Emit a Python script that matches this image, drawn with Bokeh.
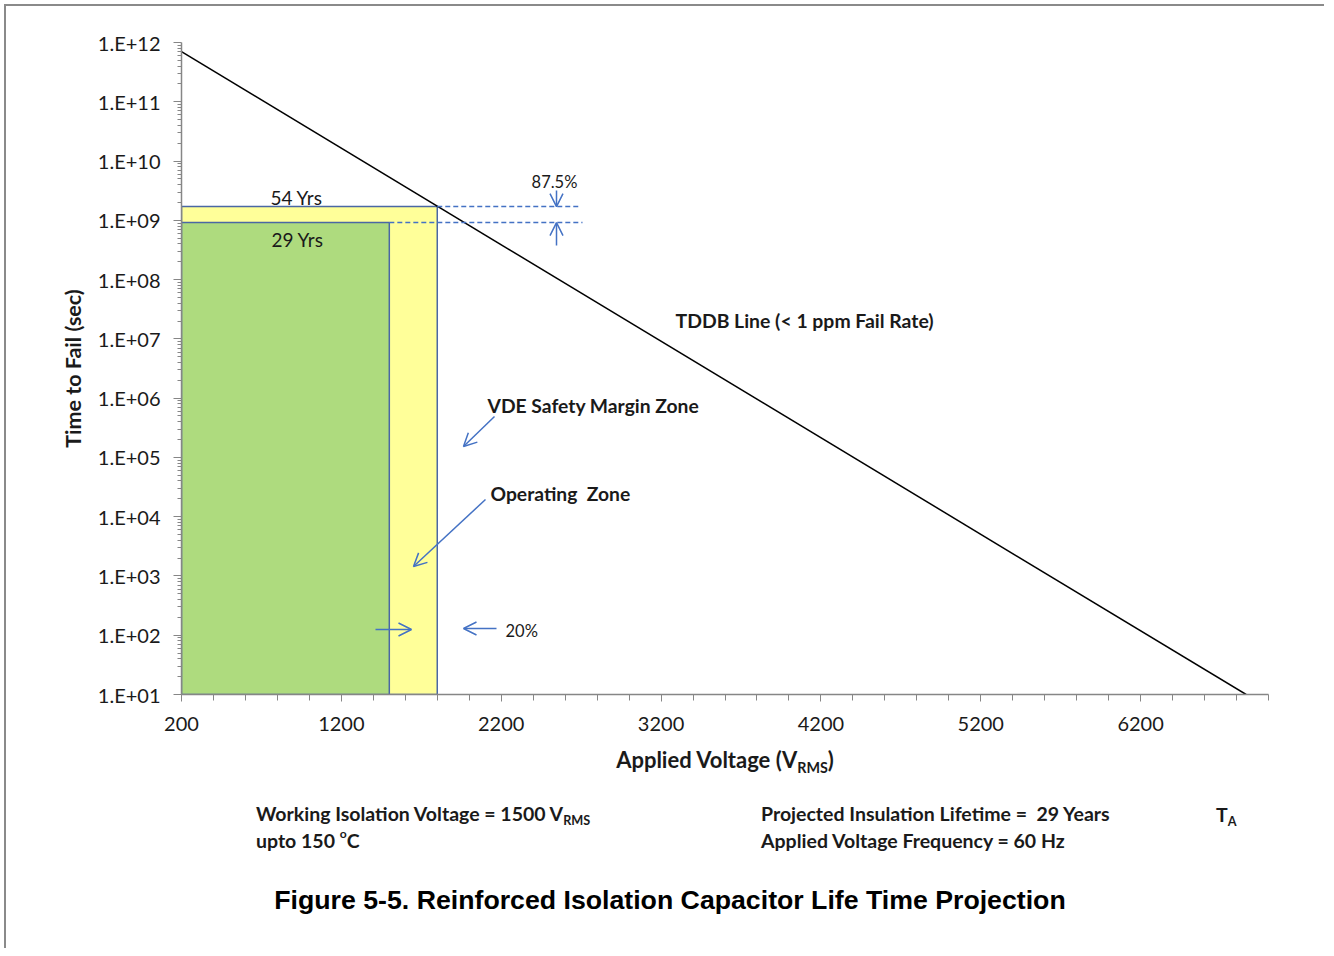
import math
from bokeh.plotting import figure
from bokeh.layouts import column
from bokeh.models import Range1d, FixedTicker, CustomJSTickFormatter, Label, Arrow, OpenHead, Div
from bokeh.embed import file_html
from bokeh.resources import INLINE

# ---------------- data ----------------
tddb_voltage = [200, 6860]          # V_RMS
tddb_time = [7.0e11, 1.0e1]         # seconds
zone_names = ["VDE Safety Margin Zone", "Operating Zone"]
zone_voltage = [1800, 1500]         # right edge of each zone (V_RMS)
zone_years = [54, 29]               # projected lifetime (years)
zone_colors = ["#FFFF99", "#AEDB7E"]
x_tick_values = [200, 1200, 2200, 3200, 4200, 5200, 6200]
x_minor_values = list(range(200, 7001, 200))
y_tick_labels = ["1.E+01", "1.E+02", "1.E+03", "1.E+04", "1.E+05", "1.E+06",
                 "1.E+07", "1.E+08", "1.E+09", "1.E+10", "1.E+11", "1.E+12"]
SEC_PER_YEAR = 365.25 * 86400
zone_seconds = [y * SEC_PER_YEAR for y in zone_years]

# ---------------- geometry helpers (page px -> data) ----------------
FL, FR, FT, FB = 181, 1268, 42, 694
XMIN, XMAX = 200, 7000
LMIN, LMAX = 1, 12

def X(sx):
    return XMIN + (sx - FL) / (FR - FL) * (XMAX - XMIN)

def Y(sy):
    return 10 ** (LMAX - (sy - FT) / (FB - FT) * (LMAX - LMIN))

W = 1318
OFF = 6          # page offset of figure (4 margin + 2 border)
FIG_BOTTOM = 742  # page y where the figure ends
H = FIG_BOTTOM - OFF

p = figure(width=W, height=H, output_backend="svg", toolbar_location=None,
           x_range=Range1d(XMIN, XMAX), y_range=Range1d(10 ** LMIN, 10 ** LMAX),
           y_axis_type="log",
           min_border_left=FL - OFF, min_border_top=FT - OFF,
           min_border_right=W - (FL - OFF) - (FR - FL),
           min_border_bottom=H - (FT - OFF) - (FB - FT))
p.outline_line_color = None
p.xgrid.grid_line_color = None
p.ygrid.grid_line_color = None
p.background_fill_color = "white"
p.border_fill_color = "white"

AX = "#868686"
TXT = "#1a1a1a"
FONT = "Lato"

for ax in (p.xaxis[0], p.yaxis[0]):
    ax.axis_line_color = AX
    ax.axis_line_width = 1.5
    ax.major_tick_line_color = AX
    ax.minor_tick_line_color = AX
    ax.major_tick_in = 0
    ax.minor_tick_in = 0
    ax.major_label_text_font = FONT
    ax.major_label_text_font_size = "20px"
    ax.major_label_text_color = TXT

p.xaxis.ticker = FixedTicker(ticks=x_tick_values, minor_ticks=x_minor_values)
p.xaxis.major_tick_out = 7
p.xaxis.minor_tick_out = 6
p.xaxis.major_label_standoff = 15

y_minor = [m * 10 ** k for k in range(LMIN, LMAX) for m in range(2, 10)]
p.yaxis.ticker = FixedTicker(ticks=[10 ** k for k in range(LMIN, LMAX + 1)], minor_ticks=y_minor)
p.yaxis.formatter = CustomJSTickFormatter(args=dict(labels=y_tick_labels),
                                          code="const i = Math.round(Math.log10(tick)) - 1; return labels[i];")
p.yaxis.major_tick_out = 8
p.yaxis.minor_tick_out = 4
p.yaxis.major_label_standoff = 13
p.yaxis.axis_label = "Time to Fail (sec)"
p.yaxis.axis_label_text_font = FONT
p.yaxis.axis_label_text_font_style = "bold"
p.yaxis.axis_label_text_font_size = "21.5px"
p.yaxis.axis_label_text_color = TXT
p.yaxis.axis_label_standoff = 9

# zones
p.quad(left=[XMIN] * len(zone_voltage), right=zone_voltage, bottom=[10 ** LMIN] * len(zone_voltage),
       top=zone_seconds, fill_color=zone_colors, line_color="#4A67A4", line_width=1.5)

# TDDB line
p.line(tddb_voltage, tddb_time, line_color="black", line_width=1.5)

BLUE = "#4472C4"
# dashed level lines
p.line([zone_voltage[0], X(580)], [zone_seconds[0]] * 2, line_color=BLUE, line_dash="5 3", line_width=1.5)
p.line([zone_voltage[1], X(582)], [zone_seconds[1]] * 2, line_color=BLUE, line_dash="5 3", line_width=1.5)

def arrow(sx0, sy0, sx1, sy1, y0=None, y1=None):
    p.add_layout(Arrow(end=OpenHead(size=13, line_color=BLUE, line_width=1.5),
                       x_start=X(sx0), y_start=Y(sy0) if y0 is None else y0,
                       x_end=X(sx1), y_end=Y(sy1) if y1 is None else y1,
                       line_color=BLUE, line_width=1.5))

arrow(556, 190, 556, 0, y1=zone_seconds[0])
arrow(556, 245, 556, 0, y1=zone_seconds[1])
arrow(494, 416, 463, 446)
arrow(485, 499, 413, 566)
arrow(375, 629, 411, 629)
arrow(496, 628, 463, 628)

def label(text, sx, sy, size, bold=False, align="left", font=FONT, color=TXT):
    p.add_layout(Label(x=X(sx), y=Y(sy), text=text, text_font=font,
                       text_font_size=f"{size}px", text_font_style="bold" if bold else "normal",
                       text_align=align, text_baseline="middle", text_color=color))

label(f"{zone_years[0]} Yrs", 296, 197, 19, align="center")
label(f"{zone_years[1]} Yrs", 297, 239, 19, align="center")
label("87.5%", 554, 181, 16.5, align="center")
label("20%", 505, 630, 16.5)
label("TDDB Line (< 1 ppm Fail Rate)", 675, 320, 19.4, bold=True)
label("VDE Safety Margin Zone", 487, 405, 19.3, bold=True)
label("Operating\u00a0 Zone", 490, 493, 19.3, bold=True)

# ---------------- texts below the chart (HTML) ----------------
def span(html, px, py, size, align="left", font="Lato", weight="bold", color=TXT):
    tx = "-50%" if align == "center" else "0"
    return (f'<span style="position:absolute;left:{px - OFF}px;top:{py - FIG_BOTTOM}px;'
            f'transform:translate({tx},-50%);white-space:pre;font-family:{font};'
            f'font-size:{size}px;font-weight:{weight};color:{color};line-height:1.2;">{html}</span>')

SUB = '<span style="font-size:65%;position:relative;top:0.35em;">{}</span>'
SUP = '<span style="font-size:62%;position:relative;top:-0.8em;">{}</span>'

html = ('<div style="position:relative;width:1318px;height:205px;">'
        + span("Applied Voltage (V" + SUB.format("RMS") + ")", 725, 760, 22, align="center")
        + span("Working Isolation Voltage = 1500 V" + SUB.format("RMS"), 256, 814, 19.5)
        + span("upto 150 " + SUP.format("o") + "C", 256, 841, 19.5)
        + span("Projected Insulation Lifetime =  29 Years", 761, 814, 19.5)
        + span("Applied Voltage Frequency = 60 Hz", 761, 841, 19.5)
        + span("T" + SUB.format("A"), 1216, 815, 19.5)
        + span("Figure 5-5. Reinforced Isolation Capacitor Life Time Projection", 670, 900, 26.7,
               align="center", font="Liberation Sans", color="black")
        + '</div>')
div = Div(text=html, width=W, height=956 - FIG_BOTTOM - 8, margin=0)

layout = column(p, div, margin=(4, 0, 0, 4), spacing=0,
                styles={"border-top": "2px solid #8a8a8a", "border-left": "2px solid #8a8a8a"})

open("out.html", "w").write(file_html(layout, INLINE))
